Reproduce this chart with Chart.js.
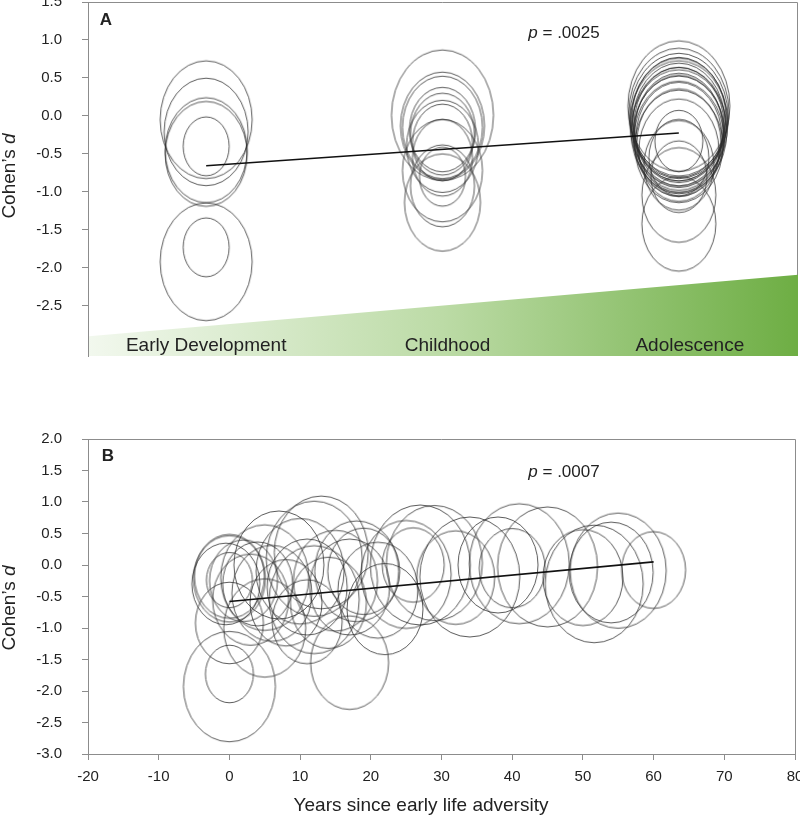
<!DOCTYPE html>
<html>
<head>
<meta charset="utf-8">
<script src="https://cdn.jsdelivr.net/npm/chart.js@4.4.0/dist/chart.umd.min.js"></script>
<style>
  html, body { margin: 0; padding: 0; background: #fff; overflow: hidden; width: 800px; height: 822px; }
  #wrapA { position: absolute; left: 0; top: -27px; width: 820px; height: 412px; }
  #wrapB { position: absolute; left: 0; top: 410px; width: 820px; height: 412px; }
</style>
</head>
<body>
<div id="wrapA"><canvas id="chartA"></canvas></div>
<div id="wrapB"><canvas id="chartB"></canvas></div>
<script>
// ---------- data, panel A (stage: 1 early development, 2 childhood, 3 adolescence)
const stageLabels = ['Early Development', 'Childhood', 'Adolescence'];
const stageA = [1, 1, 1, 1, 1, 1, 1,
  2, 2, 2, 2, 2, 2, 2, 2, 2, 2, 2, 2,
  3, 3, 3, 3, 3, 3, 3, 3, 3, 3, 3, 3, 3, 3, 3, 3, 3, 3, 3, 3, 3, 3, 3, 3];
const effectA = [-0.05, -0.21, -0.45, -0.50, -0.40, -1.92, -1.73,
  0.01, -0.13, -0.15, -0.18, -0.24, -0.35, -0.40, -0.55, -0.72, -0.80, -0.92, -1.14,
  0.13, 0.05, 0.00, -0.02, -0.05, -0.08, -0.10, -0.12, -0.15, -0.18, -0.20, -0.22,
  -0.25, -0.28, -0.30, -0.35, -0.40, -0.45, -0.33, -0.55, -0.80, -1.04, -1.42, -0.65];
const sizeA = [46, 42, 41, 41, 23, 46, 23,
  51, 42, 40, 33, 32, 30, 36, 30, 40, 23, 32, 38,
  51, 50, 49, 47, 48, 46, 49, 45, 47, 44, 48, 45,
  46, 43, 45, 42, 44, 40, 24, 30, 28, 37, 37, 35];
const fitA = [[1, -0.655], [3, -0.225]];
const yTicksA = [-2.5, -2.0, -1.5, -1.0, -0.5, 0.0, 0.5, 1.0, 1.5];

// ---------- data, panel B (years since early life adversity)
const yearsB = [0, 0, -0.5, 0, 0, 0, 0,
  2, 3, 4, 5, 5, 6, 7, 8,
  10, 11, 11, 12, 13, 12, 14, 15,
  17, 17, 18, 19, 21, 22,
  25, 26, 27, 29, 32, 34, 38, 40, 41,
  45, 50, 51.6, 54, 55, 60];
const effectB = [-0.18, -0.22, -0.30, -0.24, -0.92, -1.93, -1.73,
  -0.25, -0.55, -0.30, -0.20, -1.00, -0.45, 0.00, -0.60,
  -0.10, -0.35, -0.90, 0.10, 0.20, -0.55, -0.60, -0.25,
  -1.55, -0.35, -0.10, -0.10, -0.40, -0.70,
  -0.15, 0.00, 0.00, 0.03, -0.20, -0.19, 0.00, -0.05, 0.02,
  -0.03, -0.20, -0.30, -0.12, -0.09, -0.08];
const sizeB = [35, 36, 34, 23, 34, 46, 24,
  34, 38, 35, 44, 41, 40, 45, 36,
  44, 40, 35, 48, 47, 45, 38, 42,
  39, 40, 42, 36, 40, 38,
  45, 31, 50, 48, 39, 50, 40, 33, 50,
  50, 40, 49, 42, 48, 32];
const fitB = [[0, -0.58], [60, 0.05]];

const FONT = "'Liberation Sans', Arial, sans-serif";
const INK = '#222';
const AXIS = '#8c8c8c';

// ellipse markers (bubble radius = horizontal half axis)
const ringCache = {};
function ring(r, aspect) {
  const key = r + '_' + aspect;
  if (ringCache[key]) return ringCache[key];
  const c = document.createElement('canvas');
  const rx = r, ry = r * aspect;
  c.width = Math.ceil(rx * 2 + 4);
  c.height = Math.ceil(ry * 2 + 4);
  const g = c.getContext('2d');
  g.strokeStyle = 'rgba(45,45,45,0.78)';
  g.lineWidth = 1;
  g.beginPath();
  g.ellipse(c.width / 2, c.height / 2, rx, ry, 0, 0, Math.PI * 2);
  g.stroke();
  ringCache[key] = c;
  return c;
}

function drawParts(ctx, parts, x, y, size, rotate) {
  ctx.save();
  ctx.translate(x, y);
  if (rotate) ctx.rotate(-Math.PI / 2);
  ctx.fillStyle = INK;
  ctx.textBaseline = 'middle';
  ctx.textAlign = 'left';
  let w = 0;
  parts.forEach(p => { ctx.font = p[1] + ' ' + size + 'px ' + FONT; w += ctx.measureText(p[0]).width; });
  let cx = -w / 2;
  parts.forEach(p => {
    ctx.font = p[1] + ' ' + size + 'px ' + FONT;
    ctx.fillText(p[0], cx, 0);
    cx += ctx.measureText(p[0]).width;
  });
  ctx.restore();
}

// frame, green band and the texts
const decor = {
  id: 'decor',
  beforeDatasetsDraw(chart, args, o) {
    const ctx = chart.ctx;
    const {left, right, top, bottom} = chart.chartArea;
    ctx.save();
    ctx.strokeStyle = AXIS;
    ctx.lineWidth = 1;
    ctx.beginPath();
    ctx.moveTo(left, top + 0.5);
    ctx.lineTo(right + 0.5, top + 0.5);
    ctx.lineTo(right + 0.5, bottom);
    ctx.stroke();
    if (o.band) {
      const y = chart.scales.y;
      const grad = ctx.createLinearGradient(left, 0, right, 0);
      grad.addColorStop(0, '#f2f8ee');
      grad.addColorStop(0.5, '#bcdba6');
      grad.addColorStop(1, '#6eae44');
      ctx.fillStyle = grad;
      ctx.beginPath();
      ctx.moveTo(left + 1, bottom);
      ctx.lineTo(left + 1, y.getPixelForValue(o.band[0]));
      ctx.lineTo(right + 1, y.getPixelForValue(o.band[1]));
      ctx.lineTo(right + 1, bottom);
      ctx.closePath();
      ctx.fill();
      const x = chart.scales.x;
      ctx.fillStyle = INK;
      ctx.font = '19px ' + FONT;
      ctx.textAlign = 'center';
      ctx.textBaseline = 'alphabetic';
      stageLabels.forEach((s, i) => {
        ctx.fillText(s, x.getPixelForValue(i + 1) + o.stageShift[i], bottom - 5);
      });
    }
    ctx.restore();
  },
  afterDraw(chart, args, o) {
    const ctx = chart.ctx;
    const {left, top} = chart.chartArea;
    drawParts(ctx, [[o.letter, 'bold']], left + o.letterPos[0], top + o.letterPos[1], 17, false);
    drawParts(ctx, [['p', 'italic'], [' = ' + o.p, 'normal']], o.pPos[0], top + o.pPos[1], 17, false);
    drawParts(ctx, [['Cohen\u2019s ', 'normal'], ['d', 'italic']], 10, o.yTitleY, 19, true);
    if (o.xTitle) drawParts(ctx, [[o.xTitle, 'normal']], o.xTitlePos[0], o.xTitlePos[1], 19, false);
  }
};

function yAxis(min, max, keep) {
  return {
    min: min, max: max,
    afterFit(s) { s.width = 88; },
    afterBuildTicks(s) { s.ticks = s.ticks.filter(t => keep(t.value)); },
    border: {display: true, color: AXIS},
    grid: {drawOnChartArea: false, drawTicks: true, tickLength: 6, color: AXIS},
    ticks: {stepSize: 0.5, includeBounds: false, padding: 20, color: INK, font: {family: FONT, size: 15},
      callback: v => v.toFixed(1)}
  };
}

const bubbleA = stageA.map((s, i) => ({x: s, y: effectA[i], r: sizeA[i]}));
new Chart(document.getElementById('chartA'), {
  type: 'bubble',
  data: {
    datasets: [
      {type: 'line', data: fitA.map(p => ({x: p[0], y: p[1]})), borderColor: '#111', borderWidth: 1.6,
        pointRadius: 0, fill: false},
      {data: bubbleA, backgroundColor: 'rgba(0,0,0,0)', borderColor: 'rgba(0,0,0,0)',
        pointStyle: c => ring(c.raw ? c.raw.r : 10, 1.28)}
    ]
  },
  options: {
    responsive: true, maintainAspectRatio: false, animation: false, events: [],
    layout: {autoPadding: false, padding: {left: 0, right: 23, top: 10, bottom: 10}},
    scales: {
      x: {type: 'linear', min: 0.5, max: 3.5, display: false},
      y: yAxis(-3.16, 1.5, v => v >= -2.5 && yTicksA.includes(Math.round(v * 10) / 10))
    },
    plugins: {
      legend: {display: false}, tooltip: {enabled: false},
      decor: {letter: 'A', letterPos: [18, 18], p: '.0025', pPos: [564, 31], yTitleY: 203,
        band: [-2.9, -2.09], stageShift: [0, 5, 11]}
    }
  },
  plugins: [decor]
});

const bubbleB = yearsB.map((t, i) => ({x: t, y: effectB[i], r: sizeB[i]}));
new Chart(document.getElementById('chartB'), {
  type: 'bubble',
  data: {
    datasets: [
      {type: 'line', data: fitB.map(p => ({x: p[0], y: p[1]})), borderColor: '#111', borderWidth: 1.6,
        pointRadius: 0, fill: false},
      {data: bubbleB, backgroundColor: 'rgba(0,0,0,0)', borderColor: 'rgba(0,0,0,0)',
        pointStyle: c => ring(c.raw ? c.raw.r : 10, 1.2)}
    ]
  },
  options: {
    responsive: true, maintainAspectRatio: false, animation: false, events: [],
    layout: {autoPadding: false, padding: {left: 0, right: 25, top: 19, bottom: 0}},
    scales: {
      x: {
        type: 'linear', min: -20, max: 80,
        afterFit(s) { s.height = 68; },
        border: {display: true, color: AXIS},
        grid: {drawOnChartArea: false, drawTicks: true, tickLength: 6, color: AXIS},
        ticks: {stepSize: 10, padding: 8, color: INK, font: {family: FONT, size: 15}, maxRotation: 0}
      },
      y: yAxis(-3, 2, v => true)
    },
    plugins: {
      legend: {display: false}, tooltip: {enabled: false},
      decor: {letter: 'B', letterPos: [20, 17], p: '.0007', pPos: [564, 33], yTitleY: 198,
        xTitle: 'Years since early life adversity', xTitlePos: [421, 396]}
    }
  },
  plugins: [decor]
});
</script>
</body>
</html>
